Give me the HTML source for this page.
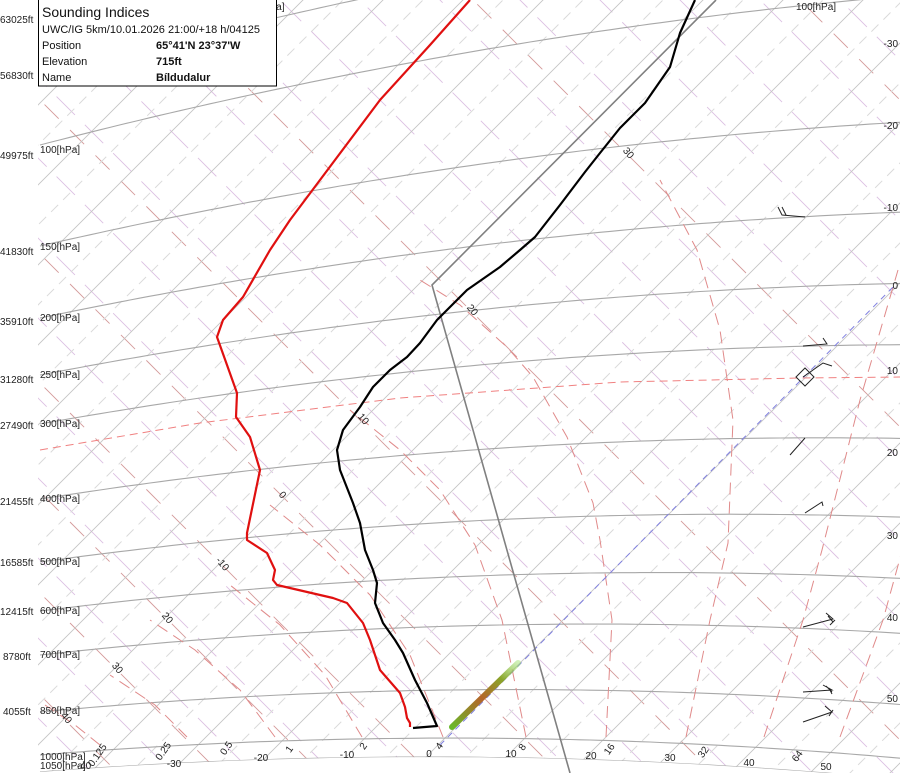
<!DOCTYPE html>
<html><head><meta charset="utf-8">
<style>
html,body{margin:0;padding:0;background:#fff;width:900px;height:773px;overflow:hidden;}
svg{display:block;font-family:"Liberation Sans",sans-serif;}
</style></head>
<body>
<svg id="s" width="900" height="773" viewBox="0 0 900 773" xmlns="http://www.w3.org/2000/svg" overflow="hidden">
<defs>
<clipPath id="clipA"><path id="clipPath" d="M38,0 L900,0 L900,773 L38,773 Z"/></clipPath>
<linearGradient id="gb" x1="452" y1="727" x2="518" y2="663" gradientUnits="userSpaceOnUse">
<stop offset="0" stop-color="#6ab82a"/><stop offset="0.45" stop-color="#b5652a"/><stop offset="0.75" stop-color="#8aa52a"/><stop offset="1" stop-color="#a0e070" stop-opacity="0.5"/>
</linearGradient>
</defs>
<g id="grid" clip-path="url(#clipA)"></g>

<g fill="none" stroke="#e08a8a" stroke-width="1" stroke-dasharray="12,7" clip-path="url(#clipA)">
<polyline points="764,737 803,620 822,550 860,400 898,270"/>
<polyline points="840,737 883,620 905,540"/>
<polyline points="686,737 710,620 728,543 733,420 720,330 697,250 660,180"/>
<polyline points="606,737 612,620 600,540 593,503 567,437 533,377 507,347 460,305 420,280"/>
<polyline points="526,737 502,620 475,545 440,490 400,450 350,410"/>
<polyline points="443,737 410,655 370,595 320,545 270,505"/>
<polyline points="362,737 325,675 280,625 230,585"/>
<polyline points="275,737 240,690 195,650 150,620"/>
<polyline points="187,737 155,705 110,675"/>
<polyline points="100,745 75,725 45,705"/>
</g>
<polyline points="40,450 200,423 400,398 620,382 800,378 900,377" fill="none" stroke="#f08080" stroke-width="1" stroke-dasharray="8,5"/>
<line x1="440" y1="745" x2="895" y2="285" stroke="#8080e0" stroke-width="1" stroke-dasharray="6,5"/>
<polyline points="716,0 432,285 570,773" fill="none" stroke="#808080" stroke-width="1.6"/>
<line x1="452" y1="727" x2="518" y2="663" stroke="url(#gb)" stroke-width="6" stroke-linecap="round"/>

<polyline fill="none" stroke="#000" stroke-width="2.2" stroke-linejoin="round" points="695,0 680,33 670,67 645,103 620,128 600,153 585,172 560,205 535,237 520,250 500,267 467,290 447,310 437,320 420,343 407,357 390,370 373,387 360,407 343,430 337,450 340,470 353,503 360,523 365,550 373,570 377,583 375,603 383,623 395,640 403,653 415,680 427,703 437,726 413,728"/>
<polyline fill="none" stroke="#e01010" stroke-width="2.2" stroke-linejoin="round" points="470,0 430,45 380,100 320,180 290,220 270,250 243,297 223,320 217,337 237,393 236,417 250,437 260,470 247,533 247,540 267,553 275,570 273,580 277,585 333,598 347,603 363,623 370,640 380,670 400,693 405,707 407,718 410,723 410,727"/>

<g fill="none" stroke="#222" stroke-width="1">
<path d="M805,217 L782,215 L778,207 M786,215 L782,207"/>
<path d="M803,346 L827,344 L823,338"/>
<path d="M796,377 L805,368 L814,377 L805,386 Z"/>
<path d="M803,377 L823,363 L832,366"/>
<path d="M790,455 L805,438"/>
<path d="M805,513 L822,502 L823,506"/>
<path d="M803,627 L833,619 L826,613 M833,622 L828,616 M830,625 L835,620"/>
<path d="M803,692 L832,690 L823,685 M832,692 L826,686 M832,694 L829,688"/>
<path d="M803,722 L832,712 L825,706 M829,716 L833,710"/>
</g>

<g font-size="10" fill="#222">
<text x="0" y="23">63025ft</text>
<text x="0" y="79">56830ft</text>
<text x="0" y="159">49975ft</text>
<text x="0" y="255">41830ft</text>
<text x="0" y="325">35910ft</text>
<text x="0" y="383">31280ft</text>
<text x="0" y="429">27490ft</text>
<text x="0" y="505">21455ft</text>
<text x="0" y="566">16585ft</text>
<text x="0" y="615">12415ft</text>
<text x="3" y="660">8780ft</text>
<text x="3" y="715">4055ft</text>
<text x="40" y="153">100[hPa]</text>
<text x="40" y="250">150[hPa]</text>
<text x="40" y="321">200[hPa]</text>
<text x="40" y="378">250[hPa]</text>
<text x="40" y="427">300[hPa]</text>
<text x="40" y="502">400[hPa]</text>
<text x="40" y="565">500[hPa]</text>
<text x="40" y="614">600[hPa]</text>
<text x="40" y="658">700[hPa]</text>
<text x="40" y="714">850[hPa]</text>
<text x="40" y="760">1000[hPa]</text>
<text x="40" y="769">1050[hPa]</text>
<text x="250" y="10">70[hPa]</text>
<text x="796" y="10">100[hPa]</text>
<g text-anchor="end">
<text x="898" y="47">-30</text>
<text x="898" y="129">-20</text>
<text x="898" y="211">-10</text>
<text x="898" y="289">0</text>
<text x="898" y="374">10</text>
<text x="898" y="456">20</text>
<text x="898" y="539">30</text>
<text x="898" y="621">40</text>
<text x="898" y="702">50</text>
</g>
<g text-anchor="middle">
<text x="84" y="769">-40</text>
<text x="174" y="767">-30</text>
<text x="261" y="761">-20</text>
<text x="347" y="758">-10</text>
<text x="429" y="757">0</text>
<text x="511" y="757">10</text>
<text x="591" y="759">20</text>
<text x="670" y="761">30</text>
<text x="749" y="766">40</text>
<text x="826" y="770">50</text>
</g>
<g text-anchor="middle">
<text transform="translate(100,757) rotate(-55)">0.125</text>
<text transform="translate(166,753) rotate(-55)">0.25</text>
<text transform="translate(229,750) rotate(-55)">0.5</text>
<text transform="translate(292,751) rotate(-55)">1</text>
<text transform="translate(366,748) rotate(-55)">2</text>
<text transform="translate(442,748) rotate(-55)">4</text>
<text transform="translate(525,749) rotate(-55)">8</text>
<text transform="translate(612,751) rotate(-55)">16</text>
<text transform="translate(706,754) rotate(-55)">32</text>
<text transform="translate(800,758) rotate(-55)">64</text>
</g>
<g text-anchor="middle">
<text transform="translate(64,720) rotate(50)">40</text>
<text transform="translate(115,670) rotate(50)">30</text>
<text transform="translate(165,620) rotate(50)">20</text>
<text transform="translate(220,566) rotate(50)">-10</text>
<text transform="translate(280,497) rotate(50)">0</text>
<text transform="translate(361,421) rotate(50)">10</text>
<text transform="translate(470,312) rotate(50)">20</text>
<text transform="translate(626,155) rotate(50)">30</text>
</g>
</g>

<rect x="38.5" y="-1" width="238" height="87" fill="#fff" stroke="#000" stroke-width="1"/>
<g fill="#111">
<text x="42" y="17" font-size="14">Sounding Indices</text>
<text x="42" y="33" font-size="11">UWC/IG 5km/10.01.2026 21:00/+18 h/04125</text>
<text x="42" y="49" font-size="11">Position</text>
<text x="156" y="49" font-size="11" font-weight="bold">65°41'N 23°37'W</text>
<text x="42" y="65" font-size="11">Elevation</text>
<text x="156" y="65" font-size="11" font-weight="bold">715ft</text>
<text x="42" y="81" font-size="11">Name</text>
<text x="156" y="81" font-size="11" font-weight="bold">Bíldudalur</text>
</g>
</svg>
<script>
(function(){
var NS="http://www.w3.org/2000/svg";
var g=document.getElementById('grid');
function el(n,a){var e=document.createElementNS(NS,n);for(var k in a)e.setAttribute(k,a[k]);g.appendChild(e);return e;}
function iso(yL,x){var a=-0.124+(yL-611)*2.9e-4;var u=x-40;return yL+a*u+1e-4*u*u;}
var d="M38,0 L900,0 ";
for(var x=900;x>=38;x-=20){d+="L"+x+","+iso(772,x).toFixed(1)+" ";}
d+="L38,"+iso(772,38).toFixed(1)+" Z";
document.getElementById('clipPath').setAttribute('d',d);
for(var c=-1000;c<=1000;c+=80){
 el('line',{x1:0,y1:-c,x2:900,y2:900-c,stroke:'#dcc0e2','stroke-width':0.9,'stroke-dasharray':'26,14'});
}
var mc=[-860,-757,-655,-553,-452,-343,-214,-60,160,473,800];
for(var i=0;i<mc.length;i++){var c2=mc[i];
 el('line',{x1:0,y1:-c2,x2:900,y2:900-c2,stroke:'#d49a9a','stroke-width':0.9,'stroke-dasharray':'20,16','stroke-dashoffset':9});
}
for(var T=-135;T<=65;T+=10){var x0=446+8*T;
 el('line',{x1:x0-100,y1:837,x2:x0+900,y2:-163,stroke:'#dadada','stroke-width':1,'stroke-dasharray':'10,7'});
}
for(var T=-140;T<=60;T+=10){var x0=446+8*T;
 el('line',{x1:x0-100,y1:837,x2:x0+900,y2:-163,stroke:'#c4c4c4','stroke-width':0.9});
}
var ys=[20,78,145,246,318,375,424,499,562,611,655,712,755,772];
for(var j=0;j<ys.length;j++){var p="";
 for(var x=40;x<=900;x+=10){p+=(x==40?"M":"L")+x+","+iso(ys[j],x).toFixed(1)+" ";}
 el('path',{d:p,fill:'none',stroke:'#a8a8a8','stroke-width':1.1});
}
})();
</script>
</body></html>
